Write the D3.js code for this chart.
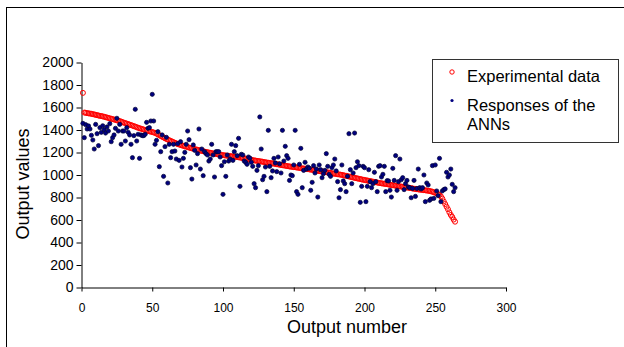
<!DOCTYPE html>
<html>
<head>
<meta charset="utf-8">
<script src="https://cdn.jsdelivr.net/npm/d3@7"></script>
<style>
  body { margin: 0; background: #fff; }
  text { font-family: Arial, "Liberation Sans", sans-serif; fill: #000; }
</style>
</head>
<body>
<svg id="chart"></svg>
<script>
(() => {

  const experimental = [
    1730, 1555, 1553, 1550, 1548, 1546, 1544, 1541, 1538, 1535,
    1532, 1529, 1526, 1524, 1521, 1518, 1514, 1511, 1507, 1504,
    1500, 1497, 1493, 1490, 1486, 1483, 1479, 1475, 1470, 1465,
    1461, 1457, 1452, 1448, 1443, 1439, 1434, 1430, 1425, 1420,
    1416, 1412, 1408, 1404, 1400, 1395, 1392, 1389, 1385, 1382,
    1378, 1375, 1368, 1361, 1354, 1347, 1340, 1334, 1327, 1320,
    1315, 1309, 1303, 1298, 1292, 1286, 1281, 1275, 1271, 1267,
    1263, 1259, 1255, 1252, 1248, 1244, 1240, 1237, 1234, 1230,
    1227, 1224, 1221, 1218, 1214, 1211, 1208, 1205, 1202, 1200,
    1197, 1195, 1192, 1190, 1187, 1185, 1182, 1180, 1178, 1176,
    1175, 1173, 1171, 1170, 1168, 1166, 1165, 1163, 1161, 1160,
    1158, 1155, 1153, 1150, 1148, 1145, 1143, 1140, 1138, 1135,
    1132, 1130, 1128, 1126, 1124, 1122, 1120, 1118, 1115, 1113,
    1111, 1109, 1107, 1105, 1103, 1101, 1098, 1096, 1094, 1092,
    1089, 1087, 1085, 1083, 1080, 1078, 1076, 1074, 1072, 1070,
    1069, 1067, 1065, 1063, 1061, 1059, 1058, 1056, 1054, 1052,
    1050, 1048, 1046, 1044, 1042, 1040, 1037, 1035, 1033, 1031,
    1029, 1027, 1025, 1023, 1021, 1019, 1015, 1013, 1011, 1009,
    1007, 1005, 1003, 1001, 998, 995, 993, 990, 987, 984,
    981, 978, 975, 972, 969, 967, 964, 961, 958, 956,
    953, 951, 948, 946, 943, 941, 938, 936, 933, 930,
    928, 926, 924, 922, 920, 918, 916, 913, 911, 909,
    907, 905, 903, 901, 899, 897, 895, 893, 891, 889,
    887, 885, 883, 880, 878, 876, 874, 872, 870, 869,
    867, 865, 864, 862, 860, 858, 855, 851, 847, 842,
    837, 830, 822, 810, 790, 765, 742, 718, 695, 668,
    645, 627, 604, 585
  ];

  // ANN responses, same outputs
  const responses = [
    1459, 1332, 1447, 1409, 1436, 1409, 1353, 1311, 1231, 1450,
    1367, 1261, 1421, 1379, 1438, 1403, 1373, 1427, 1391, 1456,
    1296, 1332, 1356, 1415, 1504, 1391, 1450, 1273, 1391, 1391,
    1302, 1421, 1379, 1356, 1273, 1154, 1350, 1584, 1302, 1362,
    1148, 1356, 1350, 1350, 1362, 1468, 1415, 1421, 1480, 1717,
    1480, 1273, 1308, 1385, 1074, 1207, 1356, 988, 1252, 1335,
    929, 1273, 1154, 1207, 1273, 1213, 1142, 1279, 1130, 1296,
    1071, 1148, 1201, 1273, 1391, 1314, 1065, 964, 1267, 1219,
    1089, 1190, 1409, 1053, 1231, 994, 1207, 1190,
    1178, 1124, 1142, 1273, 1178, 982, 1207, 1207, 1207, 1160,
    1083, 828, 1118, 988, 1178, 1124, 1142, 1273, 1130, 1207,
    1261, 1172, 1326, 899, 1184, 1178, 1124, 1113, 1095, 1160, 1150,
    1113, 1077, 923, 887, 1041, 1083, 1516, 1231, 958, 988,
    1071, 852, 1397, 1077, 976, 1036, 1148, 1107, 1030, 1160, 1100,
    1018, 1397, 1124, 1255, 1172, 1148, 952, 1000, 994, 1089,
    1397, 852, 828, 1095, 1237, 887, 1041, 1113, 1053, 1071, 1060,
    864, 935, 1083, 1018, 1053, 804, 1089, 1047, 976, 1012,
    1041, 1190, 1077, 1006,
    988, 1065, 1089, 1142, 1036, 941, 798, 870, 1089, 947,
    923, 852, 988, 1367, 1047, 923, 1018, 1373, 1065, 1118,
    1083, 757, 899, 1077, 1065, 763, 899, 1047, 941, 887,
    923, 1024, 941, 852, 1077, 1083, 982, 1006, 1077, 852, 950,
    947, 864, 804, 1059, 952, 1172, 864, 941, 1142, 958,
    976, 870, 923, 952, 893, 887, 798, 881, 952, 810, 880,
    1053, 887, 876, 887, 1000, 763, 929, 911, 775, 787,
    1083, 792, 1089, 858, 816, 1148, 763, 858, 870, 876,
    1024, 982, 1000, 1053, 917, 852, 887
  ];

  const xTicks = [0, 50, 100, 150, 200, 250, 300];
  const yTicks = [0, 200, 400, 600, 800, 1000, 1200, 1400, 1600, 1800, 2000];
  const legendLabels = ['Experimental data', ['Responses of the', 'ANNs']];

  const svgWidth = 624;
  const svgHeight = 347;

  const svg = d3.select('#chart')
  .attr('width', svgWidth)
  .attr('height', svgHeight);

  svg.append('rect')
  .attr('width', svgWidth)
  .attr('height', svgHeight)
  .attr('fill', '#fff');

  // outer frame, only top and left edge fall inside the picture
  svg.append('rect')
  .attr('x', 6.5)
  .attr('y', 7.5)
  .attr('width', 700)
  .attr('height', 400)
  .attr('fill', 'none')
  .attr('stroke', '#000')
  .attr('stroke-width', 1);

  const xScale = d3.scaleLinear()
  .domain([0, 300])
  .range([81.5, 506]);

  const yScale = d3.scaleLinear()
  .domain([0, 2000])
  .range([287.5, 62.5]);

  const xAxis = svg.append('g')
  .attr('transform', 'translate(0,287.5)')
  .call(d3.axisBottom(xScale).tickValues(xTicks).tickFormat(d3.format('d'))
    .tickSize(4).tickPadding(12).tickSizeOuter(0));
  xAxis.selectAll('text').style('font-size', '12px');

  const yAxis = svg.append('g')
  .attr('transform', 'translate(81.5,0)')
  .call(d3.axisLeft(yScale).tickValues(yTicks).tickFormat(d3.format('d'))
    .tickSize(5).tickPadding(3).tickSizeOuter(0));
  yAxis.selectAll('text').style('font-size', '14px');

  svg.selectAll('.domain, .tick line').attr('stroke', '#000');

  svg.append('text')
  .attr('x', 347)
  .attr('y', 333)
  .attr('text-anchor', 'middle')
  .style('font-size', '18px')
  .text('Output number');

  svg.append('text')
  .attr('transform', 'translate(29,184) rotate(-90)')
  .attr('text-anchor', 'middle')
  .style('font-size', '18px')
  .text('Output values');

  const outputs = experimental.map((v, i) => i + 1);

  svg.append('g')
  .selectAll('circle')
  .data(experimental)
  .enter()
  .append('circle')
  .attr('cx', (d, i) => xScale(outputs[i]))
  .attr('cy', (d) => yScale(d))
  .attr('r', 2.5)
  .attr('fill', 'none')
  .attr('stroke', '#ff0000')
  .attr('stroke-width', 1);

  svg.append('g')
  .selectAll('circle')
  .data(responses)
  .enter()
  .append('circle')
  .attr('cx', (d, i) => xScale(outputs[i]))
  .attr('cy', (d) => yScale(d))
  .attr('r', 2.1)
  .attr('fill', '#000080')
  .attr('stroke', '#000033')
  .attr('stroke-width', 0.7);

  // legend
  const legend = svg.append('g');

  legend.append('rect')
  .attr('x', 432.5)
  .attr('y', 59.5)
  .attr('width', 186)
  .attr('height', 83)
  .attr('fill', '#fff')
  .attr('stroke', '#333')
  .attr('stroke-width', 1);

  legend.append('circle')
  .attr('cx', 452)
  .attr('cy', 72)
  .attr('r', 2.2)
  .attr('fill', 'none')
  .attr('stroke', '#ff0000')
  .attr('stroke-width', 1);

  legend.append('circle')
  .attr('cx', 452)
  .attr('cy', 100.5)
  .attr('r', 1.6)
  .attr('fill', '#000080');

  legend.append('text')
  .attr('x', 467)
  .attr('y', 82)
  .style('font-size', '16.5px')
  .text(legendLabels[0]);

  legend.append('text')
  .attr('x', 467)
  .attr('y', 110.5)
  .style('font-size', '16.5px')
  .selectAll('tspan')
  .data(legendLabels[1])
  .enter()
  .append('tspan')
  .attr('x', 467)
  .attr('dy', (d, i) => i === 0 ? 0 : 19)
  .text((d) => d);

})();
</script>
</body>
</html>
